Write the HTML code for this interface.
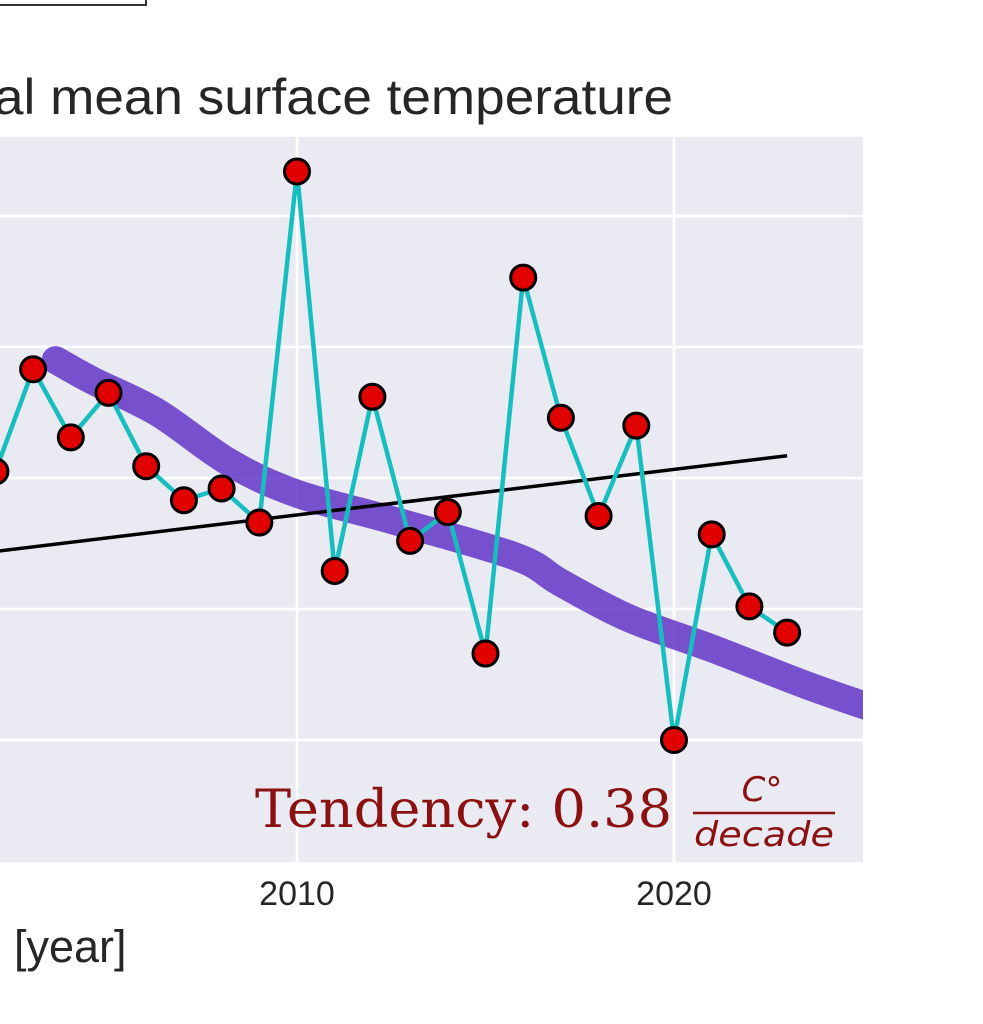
<!DOCTYPE html>
<html><head><meta charset="utf-8"><style>
html,body{margin:0;padding:0;background:#fff;}
svg{display:block;}
</style></head><body>
<svg width="983" height="1024" viewBox="0 0 983 1024" xmlns="http://www.w3.org/2000/svg" font-family="Liberation Sans, sans-serif">
<defs><clipPath id="pc"><rect x="0" y="137" width="863" height="725"/></clipPath></defs>
<rect x="-10" y="-20" width="156" height="25" fill="#fff" stroke="#333" stroke-width="2"/>
<text x="-6" y="114" textLength="679" lengthAdjust="spacingAndGlyphs" font-size="50" fill="#262626">al mean surface temperature</text>
<rect x="0" y="137" width="863" height="725" fill="#EAEAF2"/>
<g id="grid"></g>
<g id="smooth"></g>
<g id="marks"></g>
<text x="14" y="962" font-size="45" fill="#262626">[year]</text>
<g fill="#8B1010">
<text x="255" y="827" font-family="DejaVu Serif, serif" font-size="52" textLength="417" lengthAdjust="spacingAndGlyphs">Tendency: 0.38</text>
<text x="762" y="801" font-family="DejaVu Sans, sans-serif" font-size="34" font-style="italic" text-anchor="middle">C°</text>
<line x1="693" y1="813" x2="835" y2="813" stroke="#8B1010" stroke-width="2.5"/>
<text x="764" y="846" font-family="DejaVu Sans, sans-serif" font-size="34" font-style="italic" text-anchor="middle" textLength="140" lengthAdjust="spacingAndGlyphs">decade</text>
</g>
</svg>
<script>
const years=[2002,2003,2004,2005,2006,2007,2008,2009,2010,2011,2012,2013,2014,2015,2016,2017,2018,2019,2020,2021,2022,2023];
const values=[2.05,2.83,2.31,2.65,2.09,1.83,1.92,1.66,4.34,1.29,2.62,1.52,1.74,0.66,3.53,2.46,1.71,2.40,0.0,1.57,1.02,0.82];
const smoothYears=[2003.6,2004.6,2006.3,2008.2,2010,2012.5,2015.8,2017,2018.8,2021,2023.5,2025.3];
const smoothValues=[2.9,2.74,2.5,2.12,1.88,1.68,1.4,1.2,0.93,0.7,0.42,0.24];
const trendYears=[2000,2023];
const trendValues=[1.37,2.17];
const gridValues=[0,1,2,3,4];
const xTicks=[2010,2020];
const X=y=>297+(y-2010)*37.7;
const Y=v=>740-v*131;
const NS="http://www.w3.org/2000/svg";
const svg=document.querySelector('svg');
const grid=document.getElementById('grid'),marks=document.getElementById('marks'),smooth=document.getElementById('smooth');
function mk(t,a,p){const e=document.createElementNS(NS,t);for(const k in a)e.setAttribute(k,a[k]);p.appendChild(e);return e;}
gridValues.forEach(v=>{const l=mk('line',{x1:0,x2:863,y1:Y(v),y2:Y(v),stroke:'#fff','stroke-width':2.5},grid);

});
xTicks.forEach(t=>{const l=mk('line',{x1:X(t),x2:X(t),y1:137,y2:862,stroke:'#fff','stroke-width':2.5},grid);


const tx=mk('text',{x:X(t),y:905,'text-anchor':'middle','font-size':34,fill:'#262626'},svg);tx.textContent=t;

});
let sp=smoothYears.map((y,i)=>[X(y),Y(smoothValues[i])]);
let d='M'+sp[0][0]+','+sp[0][1];
for(let i=0;i<sp.length-1;i++){const p0=sp[Math.max(0,i-1)],p1=sp[i],p2=sp[i+1],p3=sp[Math.min(sp.length-1,i+2)];
const c1=[p1[0]+(p2[0]-p0[0])/6,p1[1]+(p2[1]-p0[1])/6],c2=[p2[0]-(p3[0]-p1[0])/6,p2[1]-(p3[1]-p1[1])/6];
d+=` C${c1[0]},${c1[1]} ${c2[0]},${c2[1]} ${p2[0]},${p2[1]}`;}
const sm=mk('path',{d:d,fill:'none',stroke:'#5E2FC4','stroke-opacity':0.82,'stroke-width':28,'stroke-linecap':'round','stroke-linejoin':'round','clip-path':'url(#pc)'},smooth);


const tr=mk('line',{x1:X(trendYears[0]),y1:Y(trendValues[0]),x2:X(trendYears[1]),y2:Y(trendValues[1]),stroke:'#000','stroke-width':3.5},marks);


const pl=mk('polyline',{points:years.map((y,i)=>X(y)+','+Y(values[i])).join(' '),fill:'none',stroke:'#17BEBF','stroke-width':4.5},marks);


years.forEach((y,i)=>{const c=mk('circle',{cx:X(y),cy:Y(values[i]),r:12.5,fill:'#E00000',stroke:'#000','stroke-width':3},marks);

});
</script>
</body></html>
